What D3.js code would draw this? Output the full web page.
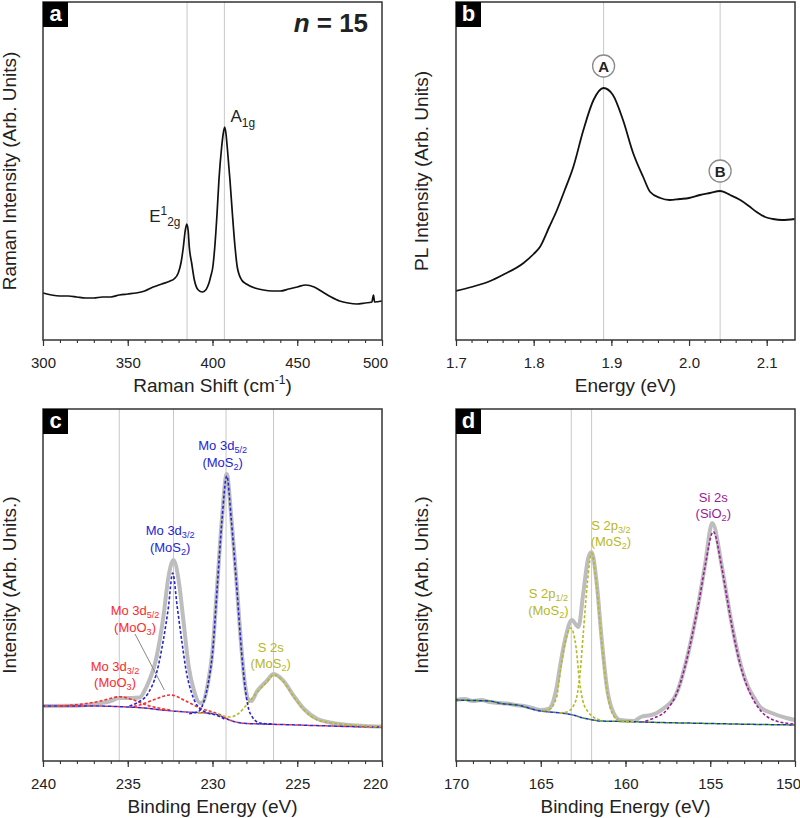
<!DOCTYPE html>
<html><head><meta charset="utf-8">
<script src="https://cdn.jsdelivr.net/npm/d3@7"></script>
<style>
html,body{margin:0;padding:0;background:#fff;}
svg{display:block;font-family:"Liberation Sans",Arial,sans-serif;}
</style></head>
<body>
<svg id="chart" width="800" height="818"></svg>
<script>
// ---------- DATA ----------
// (a) Raman spectrum
const ramanShift = [300,305,310,315,320,325,330,335,340,345,350,355,360,365,370,375,377.3,379.8,381.4,382.8,383.8,384.8,385.6,386.3,387.7,389.3,391.6,394,396,397,398.1,399,400.1,401.3,402.7,403.8,405.4,406.3,407.2,407.9,408.7,410.3,411.7,413.3,414.6,417.2,420,425,430,435,440,445,450,455,460,465,470,475,480,485,490,494,495,495.6,500];
const ramanIntensity = [47,45,44,44,43,42,42,43,43,45,46,47,49,53,56,59,61,67,77,93,108,116,110,93,77,60,50,48,50,53,58,64,72,92,127,160,193,206,213,207,193,160,127,93,73,60,56,52,50,49,49,51,53,55,53,48,43,39,37,36,37,38,45,38,39];
const ramanTicks = [300,350,400,450,500];
const ramanRefLines = [385,407];

// (b) PL spectrum
const plEnergy = [1.700,1.720,1.744,1.760,1.787,1.800,1.808,1.820,1.830,1.840,1.851,1.864,1.877,1.890,1.902,1.915,1.928,1.941,1.950,1.963,1.975,1.988,2.000,2.014,2.027,2.040,2.053,2.066,2.077,2.087,2.098,2.108,2.120,2.136];
const plIntensity = [49,53,59,65,77,86,93,113,130,150,173,210,240,252,245,220,187,163,148,142,140,141,142,145,147,149,145,140,134,128,123,121,120,121];
const plTicks = [1.7,1.8,1.9,2.0,2.1];
const plRefLines = [1.89,2.04];

// (c) Mo 3d XPS
const moTicks = [240,235,230,225,220];
const moRefLines = [235.5,232.3,229.2,226.4];
const moTotalE = [240,238,237,236,235.5,234.8,234.3,233.9,233.3,232.9,232.6,232.3,232.0,231.7,231.4,231.1,230.74,230.55,230.3,230.0,229.72,229.44,229.16,228.89,228.57,228.28,228.08,227.9,227.7,227.4,226.8,226.4,225.8,225.2,224.6,223.8,222.5,221,220];
const moTotalI = [55,55.3,57,60,63,63,63.5,74,104,144,184,201,181,138,94,71,58,59,75,110,176,243,287,243,176,110,76,62,60,69,80,87,80,65,52,42,37,35,34.5];
const moBgE = [240,237,235,234,233,232,231,230,229.5,229,228.5,228,227,226,224,222,220];
const moBgI = [55,55,54,53,51,49.5,48.5,47.5,45,41,38.5,37.5,37,36.5,35.5,34.5,34];
const mos2d32E = [235,234.47,233.79,233.3,232.9,232.6,232.35,232.08,231.82,231.53,231.23,230.84,230.3,229.8,229.3];
const mos2d32I = [54.5,58,68,88,121,154,188,154,121,88,68,54,48,46,42];
const mos2d52E = [231.5,230.8,230.5,230.25,230.0,229.72,229.44,229.16,228.89,228.57,228.28,228.08,227.79,227.2,226.5];
const mos2d52I = [47,50,60,78,108,174,241,285,241,174,108,74,48,38,37];
const moo3d32E = [239,238.2,236.8,236.2,235.5,234.67,233.9,233.1,232.5];
const moo3d32I = [55,56,59.3,61.7,64.3,61,56,52.7,51];
const moo3d52E = [234.8,234.3,233.5,232.5,231.5,230.7,230.0,229.5];
const moo3d52I = [54,56,61,66,59.3,52.7,49,46];
const s2sE = [231,230,229.5,229,228.5,228.2,227.9,227.4,226.8,226.4,225.8,225.2,224.6,223.8,222.5,221,220];
const s2sI = [48.5,47.5,45.5,44,47,52,58,68,79,86,79,64,51,41,37,35,34.5];

// (d) S 2p / Si 2s XPS
const sTicks = [170,165,160,155,150];
const sRefLines = [163.2,162.0];
const sTotalE = [170,169.5,169,168.5,168,167.5,167,166.5,166,165.5,165,164.55,164.06,163.86,163.57,163.17,162.78,162.49,162.2,162.0,161.7,161.4,161.1,160.7,160.3,159.5,159.1,158.5,158.16,157.97,157.57,157.17,156.98,156.49,156.04,155.65,155.31,154.88,154.33,153.99,153.64,153.2,152.65,152.36,152.06,151.38,150.5,150];
const sTotalI = [61,62,60,61,59,58,57.5,56,55,53,51,52,74,95,121,141,134,168,203,209,178,121,74,48,41,40,44,46,48,50,55,62,68,95,128,162,196,238,196,162,129,96,70,62,54,48,43,41];
const sBgE = [170,169,168,167.4,166.4,165,164.65,163.67,163.1,162.5,161.9,161.5,160,158,155.6,152,150];
const sBgI = [61,60.5,60,57.7,56,50,49.3,47.7,46,43,41,40,39.5,38.5,37.7,36.5,36];
const s2p12E = [165,164.55,164.06,163.86,163.57,163.23,162.92,162.72,162.53,162.2,161.9,161.5];
const s2p12I = [50,51,64,88,118,133,114,81,61,49,44,41];
const s2p32E = [164,163.47,162.98,162.68,162.49,162.25,162.0,161.7,161.4,161.1,160.7,160.3,159.5];
const s2p32I = [48,49,58,88,128,178,208,174,118,71,45,40,39.3];
const si2sE = [159,158.36,157.57,156.98,156.49,156.04,155.65,155.31,154.82,154.33,153.99,153.64,153.2,152.65,152.06,151.28,150.1];
const si2sI = [39,42.7,51,67.7,94.3,127.7,161,194.3,229.3,194.3,161,127.7,94.3,67.7,51,41,37];

// ---------- DRAWING ----------
const svg = d3.select("#chart");
const FONT = '"Liberation Sans",Arial,sans-serif';
const BLUE = "#2424d8", RED = "#ff2a2a", OLIVE = "#b8b824", PURPLE = "#9a1a9a", GREEN = "#3f8f3f", GRAY = "#bdbdbd";

function zip(a,b){ return a.map((v,i)=>[v,b[i]]); }

function panel(o){
  const g = svg.append("g");
  const x = d3.scaleLinear().domain(o.xDomain).range([o.x0,o.x1]);
  const y = d3.scaleLinear().domain([0,o.y1-o.y0]).range([o.y1,o.y0]);
  g.selectAll("line.ref").data(o.refs).join("line")
    .attr("x1",d=>x(d)).attr("x2",d=>x(d)).attr("y1",o.y0).attr("y2",o.y1)
    .attr("stroke","#c8c8c8").attr("stroke-width",1);
  const ax = g.append("g").attr("transform",`translate(0,${o.y1})`)
    .call(d3.axisBottom(x).tickValues(o.ticks).tickSize(6).tickFormat(o.fmt));
  ax.select(".domain").remove();
  ax.selectAll("line").attr("stroke","#333").attr("stroke-width",1.2);
  ax.selectAll("text").attr("y",17).attr("font-size",15).attr("font-family",FONT).attr("fill","#222")
    .attr("dx",(d,i)=> (o.lastShift && i===o.ticks.length-1) ? o.lastShift : 0);
  const mx = g.append("g").attr("transform",`translate(0,${o.y1})`)
    .call(d3.axisBottom(x).tickValues(o.minor).tickSize(3).tickFormat(""));
  mx.select(".domain").remove();
  mx.selectAll("line").attr("stroke","#333").attr("stroke-width",1.1);
  const xt = g.append("text").attr("x",(o.x0+o.x1)/2).attr("y",o.y1+52)
    .attr("text-anchor","middle").attr("font-size",19).attr("fill","#222");
  o.xTitle.forEach(p=>{ const t=xt.append("tspan").text(p.t); if(p.sup) t.attr("font-size",12).attr("dy",-8); if(p.after) t.attr("dy",8); });
  g.append("text").attr("transform",`translate(${o.yx},${(o.y0+o.y1)/2}) rotate(-90)`)
    .attr("text-anchor","middle").attr("font-size",19).attr("fill","#222").text(o.yTitle);
  return {g,x,y};
}

function frame(p,o){
  p.g.append("rect").attr("x",o.x0).attr("y",o.y0).attr("width",o.x1-o.x0).attr("height",o.y1-o.y0)
    .attr("fill","none").attr("stroke","#333").attr("stroke-width",1.5);
  p.g.append("rect").attr("x",o.x0).attr("y",o.y0).attr("width",25).attr("height",25).attr("fill","#000");
  p.g.append("text").attr("x",o.x0+12.5).attr("y",o.y0+19).attr("text-anchor","middle")
    .attr("font-size",22).attr("font-weight","bold").attr("fill","#fff").text(o.letter);
}

function curve(p, xs, ys, style){
  const line = d3.line().x(d=>p.x(d[0])).y(d=>p.y(d[1])).curve(d3.curveMonotoneX);
  const data = zip(xs,ys).sort((a,b)=>a[0]-b[0]);
  return p.g.append("path").datum(data).attr("d",line).attr("fill","none")
    .attr("stroke",style.color).attr("stroke-width",style.w||1.5)
    .attr("stroke-dasharray",style.dash||null).attr("stroke-dashoffset",style.off||0)
    .attr("stroke-linejoin","round").attr("stroke-linecap","butt");
}

function rich(p, xv, hv, parts, opt){
  const size = opt.size||13;
  const t = p.g.append("text").attr("x",p.x(xv)).attr("y",p.y(hv))
    .attr("text-anchor",opt.anchor||"middle").attr("font-size",size)
    .attr("fill",opt.color||"#222").attr("font-weight",opt.weight||"normal");
  let shift = 0;
  parts.forEach(q=>{
    const target = q.sub ? size*(opt.subShift||0.22) : q.sup ? -size*0.42 : 0;
    const ts = t.append("tspan").text(q.t).attr("dy",target-shift);
    if(q.sub||q.sup) ts.attr("font-size",size*0.7);
    if(q.italic) ts.attr("font-style","italic");
    shift = target;
  });
  return t;
}

// Panel a
const oa = {x0:43,x1:382,y0:2,y1:340,xDomain:[300,500],ticks:ramanTicks,minor:d3.range(300,501,10),lastShift:-7,
  fmt:d3.format("d"),refs:ramanRefLines,xTitle:[{t:"Raman Shift (cm"},{t:"-1",sup:true},{t:")",after:true}],
  yTitle:"Raman Intensity (Arb. Units)",yx:16,letter:"a"};
const pa = panel(oa);
curve(pa, ramanShift, ramanIntensity, {color:"#111",w:1.7});
rich(pa, 410.6, 218, [{t:"A"},{t:"1g",sub:true}], {size:17,anchor:"start",subShift:0.28});
rich(pa, 362.7, 118.3, [{t:"E"},{t:"1",sup:true},{t:"2g",sub:true}], {size:17,anchor:"start",subShift:0.28});
rich(pa, 491.8, 308, [{t:"n",italic:true},{t:" = 15"}], {size:26,anchor:"end",weight:"bold"});
frame(pa, oa);

// Panel b
const ob = {x0:456,x1:795,y0:2,y1:340,xDomain:[1.7,2.1364],ticks:plTicks,minor:d3.range(1.70,2.131,0.02).map(v=>+v.toFixed(2)),
  fmt:d3.format(".1f"),refs:plRefLines,xTitle:[{t:"Energy (eV)"}],
  yTitle:"PL Intensity (Arb. Units)",yx:428,letter:"b"};
const pb = panel(ob);
curve(pb, plEnergy, plIntensity, {color:"#111",w:1.8});
[["A",1.89,274],["B",2.04,169]].forEach(([lab,ex,hv])=>{
  pb.g.append("circle").attr("cx",pb.x(ex)).attr("cy",pb.y(hv)).attr("r",11)
    .attr("fill","#fff").attr("stroke","#8a8a8a").attr("stroke-width",1.3);
  pb.g.append("text").attr("x",pb.x(ex)).attr("y",pb.y(hv)+5.5).attr("text-anchor","middle")
    .attr("font-size",15).attr("font-weight","bold").attr("fill","#222").text(lab);
});
frame(pb, ob);

// Panel c
const oc = {x0:43,x1:382,y0:409,y1:761,xDomain:[240,220],ticks:moTicks,minor:d3.range(220,241,1),lastShift:-7,
  fmt:d3.format("d"),refs:moRefLines,xTitle:[{t:"Binding Energy (eV)"}],
  yTitle:"Intensity (Arb. Units.)",yx:16,letter:"c"};
const pc = panel(oc);
curve(pc, moTotalE, moTotalI, {color:GRAY,w:4});
curve(pc, moBgE, moBgI, {color:RED,w:1.5,dash:"3,3"});
curve(pc, moBgE, moBgI, {color:BLUE,w:1.5,dash:"3,3",off:3});
curve(pc, moo3d32E, moo3d32I, {color:RED,w:1.6,dash:"3,2"});
curve(pc, moo3d52E, moo3d52I, {color:RED,w:1.6,dash:"3,2"});
curve(pc, s2sE, s2sI, {color:OLIVE,w:1.6,dash:"3,2"});
curve(pc, mos2d32E, mos2d32I, {color:BLUE,w:1.6,dash:"3,2"});
curve(pc, mos2d52E, mos2d52I, {color:BLUE,w:1.6,dash:"3,2"});
pc.g.append("line").attr("x1",pc.x(234.57)).attr("y1",pc.y(127)).attr("x2",pc.x(232.84)).attr("y2",pc.y(71))
  .attr("stroke","#888").attr("stroke-width",1);
rich(pc, 229.4, 311, [{t:"Mo 3d"},{t:"5/2",sub:true}], {color:BLUE});
rich(pc, 229.4, 294, [{t:"(MoS"},{t:"2",sub:true},{t:")"}], {color:BLUE});
rich(pc, 232.5, 226, [{t:"Mo 3d"},{t:"3/2",sub:true}], {color:BLUE});
rich(pc, 232.5, 209, [{t:"(MoS"},{t:"2",sub:true},{t:")"}], {color:BLUE});
rich(pc, 234.57, 146, [{t:"Mo 3d"},{t:"5/2",sub:true}], {color:RED});
rich(pc, 234.57, 129, [{t:"(MoO"},{t:"3",sub:true},{t:")"}], {color:RED});
rich(pc, 235.75, 90, [{t:"Mo 3d"},{t:"3/2",sub:true}], {color:RED});
rich(pc, 235.75, 74, [{t:"(MoO"},{t:"3",sub:true},{t:")"}], {color:RED});
rich(pc, 226.57, 109, [{t:"S 2s"}], {color:OLIVE});
rich(pc, 226.57, 93, [{t:"(MoS"},{t:"2",sub:true},{t:")"}], {color:OLIVE});
frame(pc, oc);

// Panel d
const od = {x0:456,x1:795,y0:409,y1:761,xDomain:[170,150],ticks:sTicks,minor:d3.range(150,171,1),lastShift:-7,
  fmt:d3.format("d"),refs:sRefLines,xTitle:[{t:"Binding Energy (eV)"}],
  yTitle:"Intensity (Arb. Units.)",yx:428,letter:"d"};
const pd = panel(od);
curve(pd, sTotalE, sTotalI, {color:GRAY,w:4});
curve(pd, sBgE, sBgI, {color:GREEN,w:1.5,dash:"3,3"});
curve(pd, sBgE, sBgI, {color:BLUE,w:1.5,dash:"3,3",off:3});
curve(pd, s2p12E, s2p12I, {color:OLIVE,w:1.6,dash:"3,2"});
curve(pd, s2p32E, s2p32I, {color:OLIVE,w:1.6,dash:"3,2"});
curve(pd, si2sE, si2sI, {color:PURPLE,w:1.6,dash:"3,2"});
rich(pd, 160.86, 231, [{t:"S 2p"},{t:"3/2",sub:true}], {color:OLIVE});
rich(pd, 160.86, 215, [{t:"(MoS"},{t:"2",sub:true},{t:")"}], {color:OLIVE});
rich(pd, 164.55, 163, [{t:"S 2p"},{t:"1/2",sub:true}], {color:OLIVE});
rich(pd, 164.55, 146, [{t:"(MoS"},{t:"2",sub:true},{t:")"}], {color:OLIVE});
rich(pd, 154.82, 259, [{t:"Si 2s"}], {color:PURPLE});
rich(pd, 154.82, 243, [{t:"(SiO"},{t:"2",sub:true},{t:")"}], {color:PURPLE});
frame(pd, od);
</script>
</body></html>
